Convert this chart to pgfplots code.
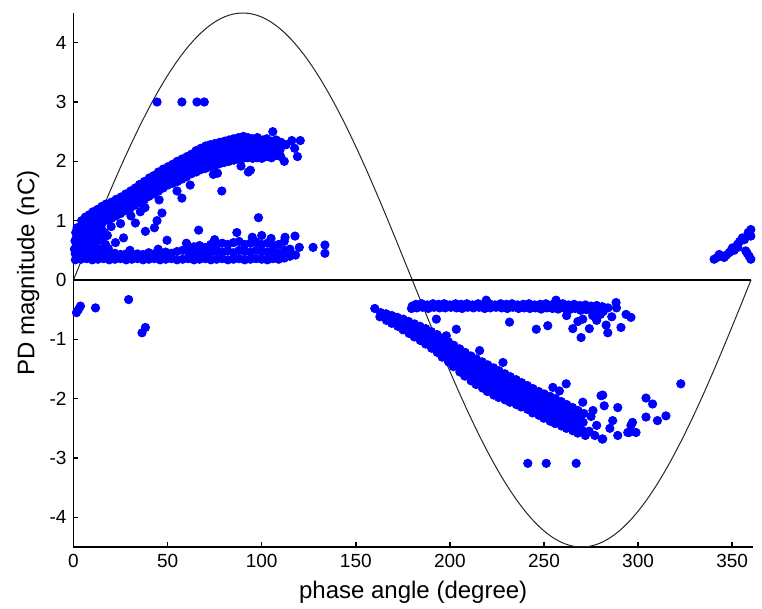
\documentclass[border=0pt]{standalone}
\usepackage{fontspec}
\setmainfont{Liberation Sans}
\usepackage{pgfplots}
\usepackage{pgfplotstable}
\pgfplotsset{compat=1.18}

\pgfplotstableread{
x y
0.5 0.52
0.8 0.66
1.2 0.80
2.1 0.57
2.4 0.74
1.9 0.88
4.0 0.70
3.8 0.86
4.3 1.00
6.1 0.79
5.8 0.93
6.3 1.06
8.2 0.83
7.9 0.98
8.4 1.10
10.1 0.88
9.8 1.03
10.4 1.15
12.6 0.93
12.3 1.06
12.8 1.19
15.2 0.96
14.8 1.10
15.1 1.24
17.4 1.01
17.7 1.14
17.3 1.28
20.2 1.04
19.8 1.18
20.1 1.31
22.6 1.08
22.3 1.22
22.7 1.36
25.1 1.12
24.8 1.27
25.3 1.40
27.6 1.17
27.4 1.31
27.8 1.45
30.1 1.21
29.8 1.35
30.3 1.50
32.6 1.26
32.3 1.40
32.8 1.55
35.2 1.30
34.8 1.45
35.1 1.61
37.6 1.35
37.3 1.50
37.7 1.66
40.1 1.41
39.8 1.56
40.3 1.72
42.6 1.45
42.3 1.61
42.7 1.76
45.2 1.50
44.8 1.66
45.1 1.82
47.6 1.55
47.3 1.70
47.7 1.87
50.1 1.60
49.8 1.75
50.3 1.91
52.6 1.63
52.3 1.79
52.7 1.95
55.2 1.66
54.8 1.83
55.1 2.00
57.6 1.70
57.3 1.86
57.7 2.04
60.1 1.74
59.8 1.91
60.3 2.08
62.6 1.79
62.3 1.95
62.7 2.12
65.2 1.82
64.8 1.98
65.1 2.18
67.6 1.86
67.3 2.02
67.7 2.22
70.1 1.88
69.8 2.05
70.3 2.26
72.6 1.91
72.3 2.08
72.7 2.28
75.2 1.93
74.8 2.10
75.1 2.30
77.6 1.96
77.3 2.13
77.7 2.32
80.1 1.98
79.8 2.16
80.3 2.34
82.6 2.00
82.3 2.18
82.7 2.36
85.2 2.02
84.8 2.20
85.1 2.38
87.6 2.04
87.3 2.22
87.7 2.40
90.1 2.05
89.8 2.23
90.3 2.42
92.6 2.06
92.3 2.24
92.7 2.40
95.2 2.05
94.8 2.22
95.1 2.38
97.6 2.06
97.3 2.24
97.7 2.40
100.1 2.05
99.8 2.20
100.3 2.36
102.6 2.08
102.3 2.22
102.7 2.38
105.2 2.06
104.8 2.20
105.1 2.34
107.6 2.10
107.3 2.24
107.7 2.36
110.1 2.08
109.8 2.20
110.3 2.32
1.7 0.60
1.7 0.72
3.2 0.66
3.2 0.81
5.2 0.77
5.2 0.94
7.2 0.87
7.2 1.00
9.2 0.90
9.2 1.05
11.3 0.96
11.3 1.08
13.7 0.99
13.7 1.13
16.2 1.04
16.2 1.16
18.7 1.07
18.7 1.22
21.2 1.12
21.2 1.24
23.7 1.14
23.7 1.30
26.2 1.20
26.2 1.33
28.7 1.23
28.7 1.39
31.2 1.29
31.2 1.42
33.7 1.32
33.7 1.48
36.2 1.38
36.2 1.52
38.7 1.42
38.7 1.59
41.2 1.49
41.2 1.63
43.7 1.52
43.7 1.70
46.2 1.59
46.2 1.73
48.7 1.62
48.7 1.79
51.2 1.68
51.2 1.82
53.7 1.70
53.7 1.88
56.2 1.75
56.2 1.91
58.7 1.77
58.7 1.96
61.2 1.83
61.2 1.99
63.7 1.86
63.7 2.04
66.2 1.91
66.2 2.07
68.7 1.93
68.7 2.13
71.2 1.97
71.2 2.15
73.7 1.99
73.7 2.19
76.2 2.02
76.2 2.20
78.7 2.04
78.7 2.23
81.2 2.08
81.2 2.25
83.7 2.09
83.7 2.28
86.2 2.12
86.2 2.29
88.7 2.13
88.7 2.32
91.2 2.15
91.2 2.32
93.7 2.14
93.7 2.33
96.2 2.13
96.2 2.30
98.7 2.16
98.7 2.32
101.2 2.12
101.2 2.28
103.7 2.15
103.7 2.31
106.2 2.13
106.2 2.27
108.7 2.17
108.7 2.30
105.9 2.50
116.0 2.35
120.5 2.35
113.0 2.28
117.5 2.22
119.0 2.08
112.0 2.00
89.0 1.92
94.0 1.85
78.8 1.50
74.3 1.78
76.5 1.80
92.9 1.82
57.6 1.38
47.0 1.13
44.4 1.00
43.0 0.88
38.2 0.82
32.9 0.96
66.5 0.84
98.3 1.05
26.6 0.71
22.3 0.63
49.7 0.67
55.0 1.50
62.0 1.60
38.0 1.22
30.5 1.08
35.5 1.15
45.5 1.35
25.0 0.95
15.0 0.85
18.0 0.75
12.0 0.70
8.0 0.65
20.0 0.90
1.0 0.45
3.0 0.55
5.0 0.60
7.0 0.55
9.0 0.62
11.0 0.58
13.0 0.66
15.5 0.72
17.0 0.60
2.0 0.40
6.0 0.46
10.0 0.50
14.0 0.52
18.5 0.53
4.0 0.72
8.5 0.76
12.5 0.80
16.5 0.80
44.4 3.00
57.6 3.00
65.6 3.00
69.5 3.00
}\posupper

\pgfplotstableread{
x y
1 0.34
1 0.44
4 0.35
4 0.45
7 0.36
7 0.44
10 0.34
10 0.46
13 0.35
13 0.43
16 0.36
16 0.44
19 0.34
19 0.42
22 0.35
22 0.45
25 0.36
25 0.43
28 0.34
28 0.44
31 0.35
31 0.42
34 0.36
34 0.44
37 0.34
37 0.43
40 0.35
40 0.46
43 0.36
43 0.44
46 0.34
46 0.45
49 0.35
49 0.47
52 0.36
52 0.45
55 0.34
55 0.48
58 0.35
58 0.50
61 0.36
61 0.47
61 0.55
64 0.34
64 0.45
64 0.56
67 0.35
67 0.48
67 0.58
70 0.36
70 0.46
70 0.55
73 0.34
73 0.47
73 0.60
76 0.35
76 0.48
76 0.58
79 0.36
79 0.47
79 0.62
82 0.34
82 0.49
82 0.60
85 0.35
85 0.46
85 0.63
88 0.36
88 0.50
88 0.65
91 0.34
91 0.48
91 0.60
94 0.35
94 0.47
94 0.62
97 0.36
97 0.50
97 0.64
100 0.35
100 0.48
100 0.60
103 0.34
103 0.47
103 0.62
106 0.36
106 0.49
106 0.58
109 0.35
109 0.46
109 0.60
112 0.37
112 0.50
112 0.65
115 0.40
115 0.52
86.8 0.80
112.4 0.72
117.7 0.74
127.3 0.55
133.6 0.59
133.6 0.45
115.0 0.49
118.0 0.42
120.0 0.55
45.0 0.52
30.0 0.50
60.0 0.62
75.0 0.68
95.0 0.72
105.0 0.70
100.0 0.75
340.4 0.35
343.1 0.43
345.7 0.38
348.4 0.46
350.1 0.54
352.8 0.60
355.4 0.71
357.2 0.49
359.9 0.85
359.9 0.35
359.9 0.74
342.0 0.38
347.0 0.42
351.0 0.50
354.0 0.65
356.5 0.68
358.5 0.80
358.0 0.45
359.0 0.40
353.0 0.55
344.5 0.40
349.5 0.50
}\poslower

\pgfplotstableread{
x y
1.6 -0.55
2.6 -0.50
3.7 -0.44
11.7 -0.47
29.3 -0.33
36.4 -0.89
38.2 -0.80
160.1 -0.48
163.2 -0.55
162.8 -0.62
166.1 -0.57
165.8 -0.62
166.3 -0.68
169.2 -0.60
168.8 -0.66
169.1 -0.73
172.1 -0.63
171.7 -0.70
172.3 -0.78
175.2 -0.66
174.8 -0.75
175.1 -0.84
178.1 -0.70
177.8 -0.80
178.3 -0.90
181.2 -0.74
180.8 -0.85
181.1 -0.96
184.1 -0.78
183.7 -0.90
184.3 -1.02
187.2 -0.82
186.8 -0.95
187.1 -1.08
190.1 -0.87
189.8 -1.01
190.3 -1.15
193.2 -0.92
192.8 -1.02
193.1 -1.12
193.3 -1.22
196.1 -0.98
195.7 -1.09
196.2 -1.19
195.9 -1.30
199.2 -1.04
198.8 -1.15
199.1 -1.27
199.3 -1.38
202.1 -1.10
201.7 -1.22
202.2 -1.34
201.9 -1.46
205.2 -1.16
204.8 -1.29
205.1 -1.42
205.3 -1.55
208.1 -1.22
207.7 -1.35
208.2 -1.49
207.9 -1.62
211.2 -1.28
210.8 -1.42
211.1 -1.56
211.3 -1.70
214.1 -1.33
213.7 -1.47
214.2 -1.62
213.9 -1.76
217.2 -1.38
216.8 -1.53
217.1 -1.67
217.3 -1.82
220.1 -1.43
219.7 -1.58
220.2 -1.73
219.9 -1.88
223.2 -1.48
222.8 -1.63
223.1 -1.79
223.3 -1.94
226.1 -1.53
225.7 -1.68
226.2 -1.83
225.9 -1.98
229.2 -1.58
228.8 -1.73
229.1 -1.87
229.3 -2.02
232.1 -1.63
231.7 -1.78
232.2 -1.91
231.9 -2.06
235.2 -1.68
234.8 -1.82
235.1 -1.96
235.3 -2.10
238.1 -1.73
237.7 -1.87
238.2 -2.00
237.9 -2.14
241.2 -1.78
240.8 -1.91
241.1 -2.05
241.3 -2.18
244.1 -1.83
243.7 -1.97
244.2 -2.10
243.9 -2.24
247.2 -1.88
246.8 -2.01
247.1 -2.15
247.3 -2.28
250.1 -1.92
249.7 -2.06
250.2 -2.19
249.9 -2.33
253.2 -1.96
252.8 -2.10
253.1 -2.24
253.3 -2.38
256.1 -2.00
255.7 -2.14
256.2 -2.28
255.9 -2.42
259.2 -2.05
258.8 -2.19
259.1 -2.32
259.3 -2.46
262.1 -2.10
261.7 -2.23
262.2 -2.37
261.9 -2.50
265.2 -2.15
264.8 -2.28
265.1 -2.41
265.3 -2.54
268.1 -2.20
267.7 -2.33
268.2 -2.45
267.9 -2.58
271.2 -2.25
270.8 -2.40
271.1 -2.55
164.5 -0.59
167.5 -0.60
167.5 -0.65
170.5 -0.63
170.5 -0.70
173.5 -0.67
173.5 -0.74
176.5 -0.71
176.5 -0.80
179.5 -0.75
179.5 -0.86
182.5 -0.79
182.5 -0.91
185.5 -0.84
185.5 -0.97
188.5 -0.88
188.5 -1.02
191.5 -0.94
191.5 -1.08
194.5 -0.97
194.5 -1.08
194.5 -1.17
197.5 -1.04
197.5 -1.14
197.5 -1.25
200.5 -1.10
200.5 -1.21
200.5 -1.33
203.5 -1.16
203.5 -1.28
203.5 -1.41
206.5 -1.22
206.5 -1.36
206.5 -1.49
209.5 -1.29
209.5 -1.42
209.5 -1.56
212.5 -1.35
212.5 -1.49
212.5 -1.63
215.5 -1.40
215.5 -1.55
215.5 -1.69
218.5 -1.46
218.5 -1.60
218.5 -1.75
221.5 -1.50
221.5 -1.66
221.5 -1.81
224.5 -1.56
224.5 -1.71
224.5 -1.87
227.5 -1.60
227.5 -1.76
227.5 -1.90
230.5 -1.66
230.5 -1.80
230.5 -1.95
233.5 -1.70
233.5 -1.85
233.5 -1.99
236.5 -1.75
236.5 -1.89
236.5 -2.03
239.5 -1.80
239.5 -1.94
239.5 -2.07
242.5 -1.85
242.5 -1.98
242.5 -2.12
245.5 -1.90
245.5 -2.04
245.5 -2.17
248.5 -1.95
248.5 -2.08
248.5 -2.22
251.5 -1.99
251.5 -2.13
251.5 -2.26
254.5 -2.03
254.5 -2.17
254.5 -2.31
257.5 -2.07
257.5 -2.21
257.5 -2.35
260.5 -2.12
260.5 -2.26
260.5 -2.39
263.5 -2.17
263.5 -2.30
263.5 -2.44
266.5 -2.22
266.5 -2.35
266.5 -2.48
269.5 -2.27
269.5 -2.39
269.5 -2.52
281.2 -1.94
282.0 -2.12
281.2 -2.68
289.2 -2.15
289.2 -2.62
286.5 -2.37
295.3 -2.57
298.9 -2.57
297.0 -2.40
270.6 -2.06
261.8 -1.75
258.2 -1.87
254.7 -1.81
228.2 -1.39
215.8 -1.19
203.4 -0.83
198.1 -0.94
192.8 -0.66
322.7 -1.75
304.2 -1.99
307.7 -2.09
314.8 -2.29
310.3 -2.37
304.2 -2.31
294.5 -2.57
280.9 -2.68
280.3 -1.95
296.2 -2.45
275.0 -2.30
278.0 -2.45
274.0 -2.55
276.0 -2.20
285.0 -2.50
272.0 -2.62
277.0 -2.62
241.4 -3.09
251.2 -3.09
267.1 -3.09
}\neglower

\pgfplotstableread{
x y
180.0 -0.44
182.0 -0.41
182.5 -0.47
185.0 -0.40
185.5 -0.46
188.0 -0.42
188.5 -0.48
191.0 -0.40
191.5 -0.46
194.0 -0.41
194.5 -0.47
197.0 -0.40
197.5 -0.47
200.0 -0.42
200.5 -0.46
203.0 -0.40
203.5 -0.47
206.0 -0.41
206.5 -0.48
209.0 -0.40
209.5 -0.46
212.0 -0.42
212.5 -0.47
215.0 -0.40
215.5 -0.46
218.0 -0.41
218.5 -0.48
221.0 -0.40
221.5 -0.47
224.0 -0.42
224.5 -0.46
227.0 -0.40
227.5 -0.47
230.0 -0.41
230.5 -0.48
233.0 -0.40
233.5 -0.46
236.0 -0.42
236.5 -0.48
239.0 -0.41
239.5 -0.47
242.0 -0.40
242.5 -0.48
245.0 -0.42
245.5 -0.47
248.0 -0.41
248.5 -0.49
251.0 -0.40
251.5 -0.47
254.0 -0.42
254.5 -0.48
257.0 -0.41
257.5 -0.49
260.0 -0.40
260.5 -0.47
263.0 -0.42
263.5 -0.50
266.0 -0.41
266.5 -0.48
269.0 -0.43
269.5 -0.51
272.0 -0.42
272.5 -0.50
275.0 -0.44
275.5 -0.52
278.0 -0.43
278.5 -0.50
281.0 -0.45
281.5 -0.53
284.0 -0.47
231.7 -0.71
245.9 -0.83
252.0 -0.77
265.3 -0.82
269.7 -0.97
274.1 -0.82
283.0 -0.76
283.9 -0.89
290.9 -0.80
296.2 -0.63
293.6 -0.58
288.3 -0.38
288.5 -0.47
275.9 -0.60
270.6 -0.66
179.6 -0.48
219.3 -0.34
256.4 -0.34
262.0 -0.60
268.0 -0.70
278.0 -0.68
286.0 -0.62
280.0 -0.58
}\negupper

\pgfplotstableread{
x y
0 0
5 0.3922
10 0.7814
15 1.1647
20 1.5391
25 1.9018
30 2.25
35 2.5811
40 2.8925
45 3.1820
50 3.4472
55 3.6862
60 3.8971
65 4.0784
70 4.2286
75 4.3467
80 4.4316
85 4.4829
90 4.5
95 4.4829
100 4.4316
105 4.3467
110 4.2286
115 4.0784
120 3.8971
125 3.6862
130 3.4472
135 3.1820
140 2.8925
145 2.5811
150 2.25
155 1.9018
160 1.5391
165 1.1647
170 0.7814
175 0.3922
180 0
185 -0.3922
190 -0.7814
195 -1.1647
200 -1.5391
205 -1.9018
210 -2.25
215 -2.5811
220 -2.8925
225 -3.1820
230 -3.4472
235 -3.6862
240 -3.8971
245 -4.0784
250 -4.2286
255 -4.3467
260 -4.4316
265 -4.4829
270 -4.5
275 -4.4829
280 -4.4316
285 -4.3467
290 -4.2286
295 -4.0784
300 -3.8971
305 -3.6862
310 -3.4472
315 -3.1820
320 -2.8925
325 -2.5811
330 -2.25
335 -1.9018
340 -1.5391
345 -1.1647
350 -0.7814
355 -0.3922
360 0
}\sinecurve

\begin{document}
\begin{tikzpicture}
\begin{axis}[
  at={(0,0)}, anchor=south west,
  scale only axis,
  width=339.7pt, height=267pt,
  xmin=0, xmax=361, ymin=-4.5, ymax=4.5,
  axis x line=bottom, axis y line=left,
  axis line style={-, line width=0.8pt, black},
  xtick={0,50,...,350},
  ytick={-4,-3,...,4},
  tick align=inside,
  major tick length=2.5pt,
  tick style={black, line width=0.8pt},
  /pgf/number format/assume math mode=true,
  ticklabel style={font=\fontsize{9.5}{11}\selectfont},
  label style={font=\fontsize{12}{14}\selectfont},
  xlabel={phase angle (degree)},
  ylabel={PD magnitude (nC)},
  ylabel style={xshift=3.5pt, yshift=-1.75pt},
  clip=false,
]
\coordinate (O) at (rel axis cs:0,0);
\addplot[blue, only marks, mark=*, mark size=2.1pt] table {\posupper};
\addplot[blue, only marks, mark=*, mark size=2.1pt] table {\poslower};
\addplot[blue, only marks, mark=*, mark size=2.1pt] table {\neglower};
\addplot[blue, only marks, mark=*, mark size=2.1pt] table {\negupper};
\addplot[black!85, line width=0.5pt, smooth] table {\sinecurve};
\addplot[black, line width=0.7pt] coordinates {(0,0) (360,0)};
\end{axis}
\pgfresetboundingbox
\path ([shift={(-36.75pt,-31pt)}]O) rectangle ([shift={(344.25pt,273.5pt)}]O);
\end{tikzpicture}
\end{document}
